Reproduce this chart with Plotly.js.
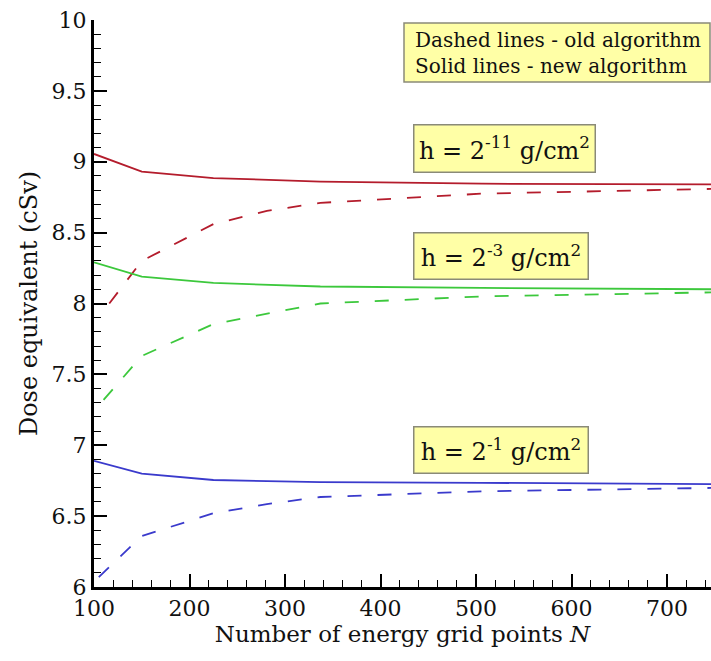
<!DOCTYPE html>
<html>
<head>
<meta charset="utf-8">
<script src="https://cdn.plot.ly/plotly-3.0.1.min.js"></script>
<style>html,body{margin:0;padding:0;background:#fff;}#chart{width:711px;height:661px;}</style>
</head>
<body>
<div id="chart"></div>
<script>
// New algorithm (solid lines)
const N_new = [100, 150, 225, 337, 506, 759];
const red_new = [9.055, 8.93, 8.885, 8.86, 8.845, 8.84];
const green_new = [8.29, 8.19, 8.145, 8.12, 8.11, 8.10];
const blue_new = [6.89, 6.80, 6.755, 6.74, 6.735, 6.725];

// Old algorithm (dashed lines)
const N_red_old = [116, 150, 225, 281, 337, 506, 759];
const red_old = [8.00, 8.30, 8.56, 8.653, 8.71, 8.775, 8.81];
const N_green_old = [110, 150, 225, 281, 337, 506, 759];
const green_old = [7.32, 7.63, 7.855, 7.926, 8.00, 8.05, 8.08];
const N_blue_old = [105, 150, 225, 281, 337, 506, 759];
const blue_old = [6.07, 6.36, 6.52, 6.585, 6.635, 6.675, 6.70];

const xTickVals = [100, 200, 300, 400, 500, 600, 700];
const yTickVals = [6, 6.5, 7, 7.5, 8, 8.5, 9, 9.5, 10];

const RED = '#b41c2c', GREEN = '#3cc83c', BLUE = '#3a3acc';
const DASH = '14px,16px';
const W = 1.8;
const FONT = 'DejaVu Serif';

const traces = [
  {x: N_new, y: red_new, mode: 'lines', line: {color: RED, width: W}},
  {x: N_red_old, y: red_old, mode: 'lines', line: {color: RED, width: W, dash: DASH}},
  {x: N_new, y: green_new, mode: 'lines', line: {color: GREEN, width: W}},
  {x: N_green_old, y: green_old, mode: 'lines', line: {color: GREEN, width: W, dash: DASH}},
  {x: N_new, y: blue_new, mode: 'lines', line: {color: BLUE, width: W}},
  {x: N_blue_old, y: blue_old, mode: 'lines', line: {color: BLUE, width: W, dash: DASH}}
];

const boxStyle = {bgcolor: '#ffffa6', bordercolor: '#8a8a78', borderwidth: 1.5, showarrow: false,
  xref: 'x', yref: 'y', font: {family: FONT, size: 24, color: '#111'}};

const layout = {
  width: 711, height: 661,
  margin: {l: 94, r: 0, t: 20, b: 74},
  paper_bgcolor: '#fff', plot_bgcolor: '#fff',
  showlegend: false,
  font: {family: FONT, color: '#111'},
  xaxis: {
    range: [100, 746], tickmode: 'array', tickvals: xTickVals,
    ticks: 'inside', ticklen: 13, tickwidth: 2, tickcolor: '#000',
    showline: true, linewidth: 3, linecolor: '#000', showgrid: false, zeroline: false,
    tickfont: {family: FONT, size: 22, color: '#111'},
    minor: {tickmode: 'linear', tick0: 100, dtick: 20, ticks: 'inside', ticklen: 7, tickwidth: 1, tickcolor: '#000'},
    title: {text: 'Number of energy grid points <i>N</i>', font: {family: FONT, size: 23, color: '#111'}, standoff: 6}
  },
  yaxis: {
    range: [6, 10], tickmode: 'array', tickvals: yTickVals,
    ticks: 'inside', ticklen: 13, tickwidth: 2, tickcolor: '#000',
    showline: true, linewidth: 3, linecolor: '#000', showgrid: false, zeroline: false,
    tickfont: {family: FONT, size: 22, color: '#111'},
    minor: {tickmode: 'linear', tick0: 6, dtick: 0.1, ticks: 'inside', ticklen: 7, tickwidth: 1, tickcolor: '#000'},
    title: {text: 'Dose equivalent (cSv)', font: {family: FONT, size: 24, color: '#111'}, standoff: 8}
  },
  shapes: [
    {type: 'rect', xref: 'paper', yref: 'paper', x0: (404-94)/617, x1: (710-94)/617,
     y0: (661-74-82)/567, y1: (661-74-23)/567, fillcolor: '#ffffa6', line: {color: '#8a8a78', width: 1.5}, layer: 'above'}
  ],
  annotations: [
    {text: 'Dashed lines - old algorithm', xref: 'paper', yref: 'paper', x: (413-94)/617, y: (661-74-40)/567,
     xanchor: 'left', yanchor: 'middle', showarrow: false, font: {family: FONT, size: 20, color: '#111'}},
    {text: 'Solid lines - new algorithm', xref: 'paper', yref: 'paper', x: (413-94)/617, y: (661-74-66)/567,
     xanchor: 'left', yanchor: 'middle', showarrow: false, font: {family: FONT, size: 20, color: '#111'}},
    Object.assign({}, boxStyle, {text: 'h = 2<sup>-11</sup> g/cm<sup>2</sup>', x: 530, y: 9.09, width: 178, height: 44, borderpad: 1}),
    Object.assign({}, boxStyle, {text: 'h = 2<sup>-3</sup> g/cm<sup>2</sup>', x: 526, y: 8.332, width: 171, height: 43, borderpad: 1}),
    Object.assign({}, boxStyle, {text: 'h = 2<sup>-1</sup> g/cm<sup>2</sup>', x: 526, y: 6.967, width: 171, height: 43, borderpad: 1})
  ]
};

Plotly.newPlot('chart', traces, layout, {displayModeBar: false});
</script>
</body>
</html>
